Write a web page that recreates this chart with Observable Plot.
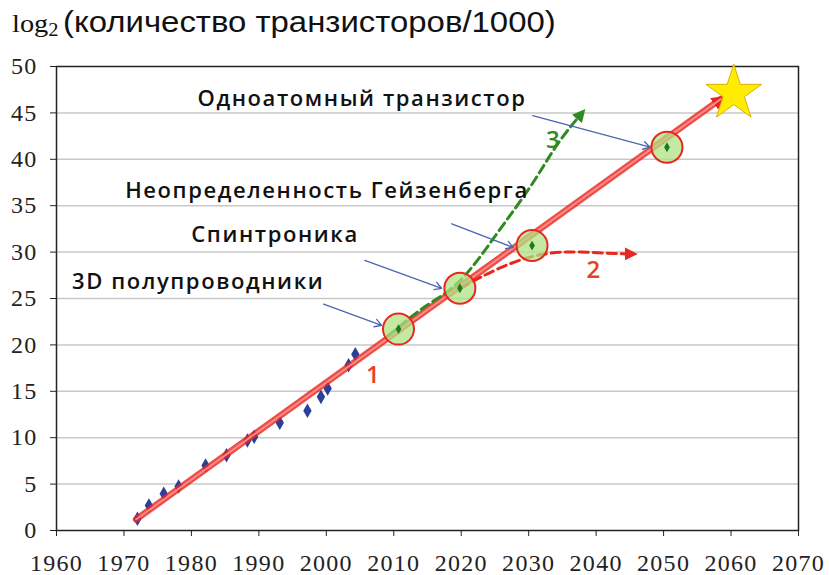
<!DOCTYPE html>
<html><head><meta charset="utf-8">
<script src="https://cdn.jsdelivr.net/npm/d3@7"></script>
<script src="https://cdn.jsdelivr.net/npm/@observablehq/plot@0.6"></script>
<style>
body{margin:0;background:#fff;}
#wrap{width:829px;height:575px;position:relative;overflow:hidden;background:#fff}
#title{position:absolute;left:12px;top:2px;height:48px;line-height:40px;white-space:nowrap;color:#111;font-family:"Liberation Sans",Arial,sans-serif;font-size:29px;transform:scaleX(1.135);transform-origin:0 0}
#title .log{font-family:"Liberation Serif","Times New Roman",serif;font-size:25px}
#title .sub{font-family:"Liberation Serif","Times New Roman",serif;font-size:18px;position:relative;top:4px;margin-right:4px}
#chart{position:absolute;left:0;top:50px}
#chart g[aria-description="labels"] text{letter-spacing:1.6px}
#chart g[aria-label="x-axis tick label"] text, #chart g[aria-label="y-axis tick label"] text{letter-spacing:1.3px}
</style></head><body>
<div id="wrap">
<div id="title"><span class="log">log</span><span class="sub">2</span>(количество транзисторов/1000)</div>
<div id="chart"></div>
</div>
<script>
// axis ticks
const xTicks = [1960,1970,1980,1990,2000,2010,2020,2030,2040,2050,2060,2070];
const yTicks = [0,5,10,15,20,25,30,35,40,45,50];

// measured processors (year, log2(transistors/1000))
const chipYears = [1972.0,1973.7,1975.9,1978.1,1982.1,1985.2,1988.3,1989.3,1993.1,1997.2,1999.2,2000.2,2003.3,2004.3];
const chipLog2  = [1.26,2.7,3.95,4.74,7.0,8.1,9.7,10.1,11.6,12.9,14.4,15.3,17.8,19.0];

// scenario 1: trend line
const trendYears  = [1971.8, 2019.8, 2058.5];
const trendValues = [1.2, 26.3, 46.5];

// milestones (circles)
const milestoneYears  = [2010.7, 2019.8, 2030.5, 2050.5];
const milestoneValues = [21.7, 26.1, 30.7, 41.3];

// scenario 2: saturation
const plateauYears  = [2019.9, 2022.9, 2027.8, 2032.8, 2037.7, 2042.6, 2045.4];
const plateauValues = [26.1, 27.3, 28.9, 29.85, 30.0, 29.85, 29.8];

// scenario 3: acceleration
const boostYears  = [2009.2, 2014.6, 2019.8, 2025.3, 2030.2, 2033.6, 2036.1, 2037.9];
const boostValues = [21.0, 24.1, 26.9, 32.0, 37.0, 40.9, 43.4, 45.0];

// annotations
const labelTexts  = ["Одноатомный транзистор", "Неопределенность Гейзенберга", "Спинтроника", "3D полупроводники"];
const labelYears  = [2005.3, 2000.1, 1992.4, 1981.0];
const labelValues = [46.55, 36.6, 31.8, 26.8];
const pointerFromYears  = [2030.6, 2018.6, 2005.7, 1999.6];
const pointerFromValues = [44.7, 33.05, 29.1, 24.4];
const pointerToYears    = [2048.0, 2027.7, 2017.1, 2008.2];
const pointerToValues   = [41.3, 30.5, 26.1, 22.1];

const scenarioNames  = ["1", "2", "3"];
const scenarioYears  = [2006.9, 2039.6, 2033.6];
const scenarioValues = [16.7, 28.0, 42.0];

const goalYears = [2060.4];
const goalValues = [47.1];

const RED = "#e8281e", GREEN = "#2f8a22", BLUE = "#4a66b0";

const zip = (xs, ys) => xs.map((x, i) => ({x, y: ys[i]}));
const chips = zip(chipYears, chipLog2);
const trend = zip(trendYears, trendValues);
const milestones = zip(milestoneYears, milestoneValues);
const plateau = zip(plateauYears, plateauValues);
const boost = zip(boostYears, boostValues);
const labels = labelTexts.map((t, i) => ({t, x: labelYears[i], y: labelValues[i]}));
const pointers = pointerFromYears.map((x1, i) => ({x1, y1: pointerFromValues[i], x2: pointerToYears[i], y2: pointerToValues[i]}));
const scen = scenarioNames.map((t, i) => ({t, x: scenarioYears[i], y: scenarioValues[i]}));
const goal = zip(goalYears, goalValues);

const chart = Plot.plot({
  width: 829, height: 525,
  marginLeft: 56, marginRight: 31, marginTop: 16, marginBottom: 45,
  style: {fontFamily: "'Liberation Serif','Times New Roman',serif", fontSize: "24px", color: "#222", background: "#fff", overflow: "visible"},
  x: {domain: [1960, 2070], ticks: xTicks, tickFormat: d => String(d), tickSize: 6, tickPadding: 17, label: null},
  y: {domain: [0, 50], ticks: yTicks, tickFormat: d => String(d), tickSize: 6, tickPadding: 13, label: null},
  marks: [
    Plot.ruleY(yTicks.filter(v => v > 0 && v < 50), {y: d => d, stroke: "#c8c8c8", strokeWidth: 1.5}),
    Plot.frame({stroke: "#222", strokeWidth: 1.5}),
    Plot.dot(chips, {x: "x", y: "y", symbol: "diamond", r: 4.4, fill: "#2b3f9c"}),
    Plot.line(trend, {x: "x", y: "y", stroke: RED, strokeWidth: 6.5, strokeOpacity: 0.82, ariaDescription: "trend"}),
    Plot.line(trend, {x: "x", y: "y", stroke: "#ff8c8c", strokeWidth: 1.8}),
    Plot.line(plateau, {x: "x", y: "y", curve: "natural", stroke: RED, strokeWidth: 3, strokeDasharray: "9,5", ariaDescription: "plateau"}),
    Plot.line(boost, {x: "x", y: "y", curve: "natural", stroke: GREEN, strokeWidth: 3, strokeDasharray: "9,5", ariaDescription: "boost"}),
    Plot.dot(milestones, {x: "x", y: "y", r: 15.5, fill: "#b0e184", fillOpacity: 0.75, stroke: RED, strokeWidth: 2}),
    Plot.dot(milestones, {x: "x", y: "y", symbol: "diamond", r: 3, fill: "#1f7a1f"}),
    Plot.arrow(pointers, {x1: "x1", y1: "y1", x2: "x2", y2: "y2", stroke: BLUE, strokeWidth: 1.3, headLength: 9}),
    Plot.text(labels, {x: "x", y: "y", text: "t", fontFamily: "'Open Sans',sans-serif", fontWeight: 600, fontSize: 22, fill: "#111", ariaDescription: "labels"}),
    Plot.text(scen, {x: "x", y: "y", text: "t", fontFamily: "'Open Sans',sans-serif", fontWeight: 600, fontSize: 24, fill: (d) => d.t === "3" ? GREEN : "#ec4020"}),
    Plot.dot(goal, {x: "x", y: "y", symbol: "star", r: 17.5, fill: "#ffec00", stroke: "#dcb000", strokeWidth: 1})
  ]
});
document.getElementById("chart").appendChild(chart);

// filled arrowheads for the lines
const svgNS = "http://www.w3.org/2000/svg";
const defs = document.createElementNS(svgNS, "defs");
function addMarker(id, color, size) {
  const m = document.createElementNS(svgNS, "marker");
  m.setAttribute("id", id);
  m.setAttribute("viewBox", "0 0 10 10");
  m.setAttribute("refX", "6");
  m.setAttribute("refY", "5");
  m.setAttribute("markerUnits", "userSpaceOnUse");
  m.setAttribute("markerWidth", size);
  m.setAttribute("markerHeight", size);
  m.setAttribute("orient", "auto");
  const p = document.createElementNS(svgNS, "path");
  p.setAttribute("d", "M0,0L10,5L0,10Z");
  p.setAttribute("fill", color);
  m.appendChild(p);
  defs.appendChild(m);
}
addMarker("ah-red", RED, 14);
addMarker("ah-red2", RED, 13);
addMarker("ah-green", GREEN, 13);
chart.insertBefore(defs, chart.firstChild);
const setMarker = (label, id) => chart.querySelectorAll(`g[aria-description="${label}"] path`).forEach(p => p.setAttribute("marker-end", `url(#${id})`));
setMarker("trend", "ah-red");
setMarker("plateau", "ah-red2");
setMarker("boost", "ah-green");
</script>
</body></html>
